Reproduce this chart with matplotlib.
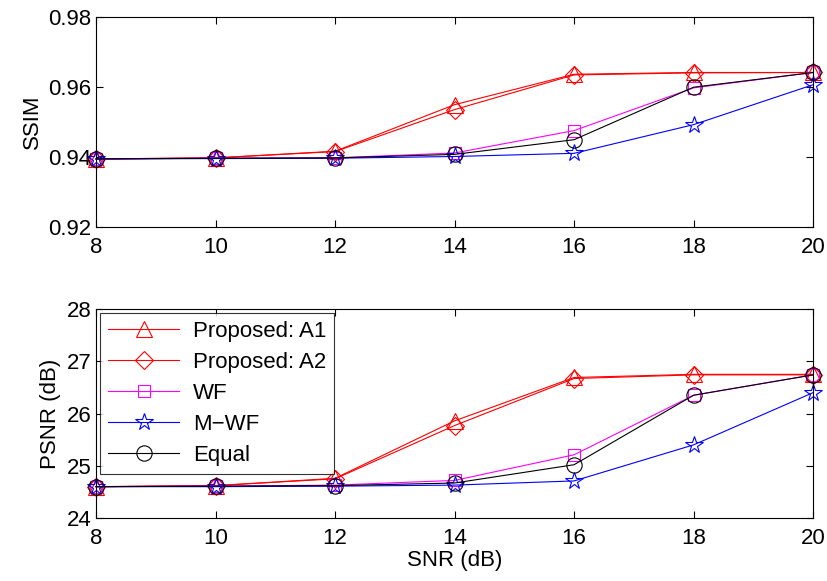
import matplotlib
matplotlib.use('Agg')
import matplotlib.pyplot as plt

plt.rcParams['font.family'] = ['Liberation Sans', 'DejaVu Sans']

snr = [8, 10, 12, 14, 16, 18, 20]
labels = ['Proposed: A1', 'Proposed: A2', 'WF', 'M\u2212WF', 'Equal']

ssim_a1 = [0.9395, 0.9398, 0.9417, 0.9550, 0.9637, 0.9642, 0.9642]
ssim_a2 = [0.9395, 0.9398, 0.9416, 0.9536, 0.9635, 0.9641, 0.9642]
ssim_wf = [0.9395, 0.9397, 0.9398, 0.9412, 0.9476, 0.9598, 0.9642]
ssim_mwf = [0.9395, 0.9396, 0.9397, 0.9402, 0.9411, 0.9493, 0.9607]
ssim_eq = [0.9395, 0.9397, 0.9398, 0.9408, 0.9450, 0.9600, 0.9642]

psnr_a1 = [24.60, 24.62, 24.76, 25.86, 26.69, 26.75, 26.75]
psnr_a2 = [24.60, 24.62, 24.75, 25.77, 26.67, 26.74, 26.74]
psnr_wf = [24.60, 24.61, 24.63, 24.72, 25.21, 26.35, 26.74]
psnr_mwf = [24.60, 24.60, 24.61, 24.63, 24.71, 25.40, 26.40]
psnr_eq = [24.60, 24.61, 24.62, 24.67, 25.02, 26.35, 26.74]

styles = [('r', '^'), ('r', 'D'), ('#ff00ff', 's'), ('b', '*'), ('k', 'o')]
sizes = [12, 9, 9, 13, 11]

fig = plt.figure(figsize=(8.28, 5.81), dpi=100)
ax1 = fig.add_axes([0.116, 0.609, 0.866, 0.3614])
ax2 = fig.add_axes([0.116, 0.1084, 0.866, 0.3597])


def draw(ax, series):
    for ys, (c, m), ms, lab in zip(series, styles, sizes, labels):
        ax.plot(snr, ys, color=c, marker=m, markersize=ms, fillstyle='none',
                markeredgewidth=0.8, linewidth=0.8, label=lab, clip_on=False)
    ax.set_xlim(8, 20)
    ax.set_xticks(snr)
    ax.tick_params(direction='in', top=True, right=True, labelsize=16, length=5,
                   width=0.8)
    ax.tick_params(axis='x', pad=7)
    for sp in ax.spines.values():
        sp.set_linewidth(0.8)


draw(ax1, [ssim_a1, ssim_a2, ssim_wf, ssim_mwf, ssim_eq])
ax1.set_ylim(0.92, 0.98)
ax1.set_yticks([0.92, 0.94, 0.96, 0.98])
ax1.set_yticklabels(['0.92', '0.94', '0.96', '0.98'])
ax1.set_ylabel('SSIM', fontsize=16)

draw(ax2, [psnr_a1, psnr_a2, psnr_wf, psnr_mwf, psnr_eq])
ax2.set_ylim(24, 28)
ax2.set_yticks([24, 25, 26, 27, 28])
ax2.set_ylabel('PSNR (dB)', fontsize=16)
ax2.set_xlabel('SNR (dB)', fontsize=16, labelpad=1)
leg = ax2.legend(loc='upper left', fontsize=16, frameon=True, fancybox=False,
                 edgecolor='k', borderaxespad=0.2, handlelength=3.2,
                 labelspacing=0.45, borderpad=0.35, handletextpad=0.6)
leg.get_frame().set_linewidth(0.8)

fig.savefig('out.png', dpi=100)
